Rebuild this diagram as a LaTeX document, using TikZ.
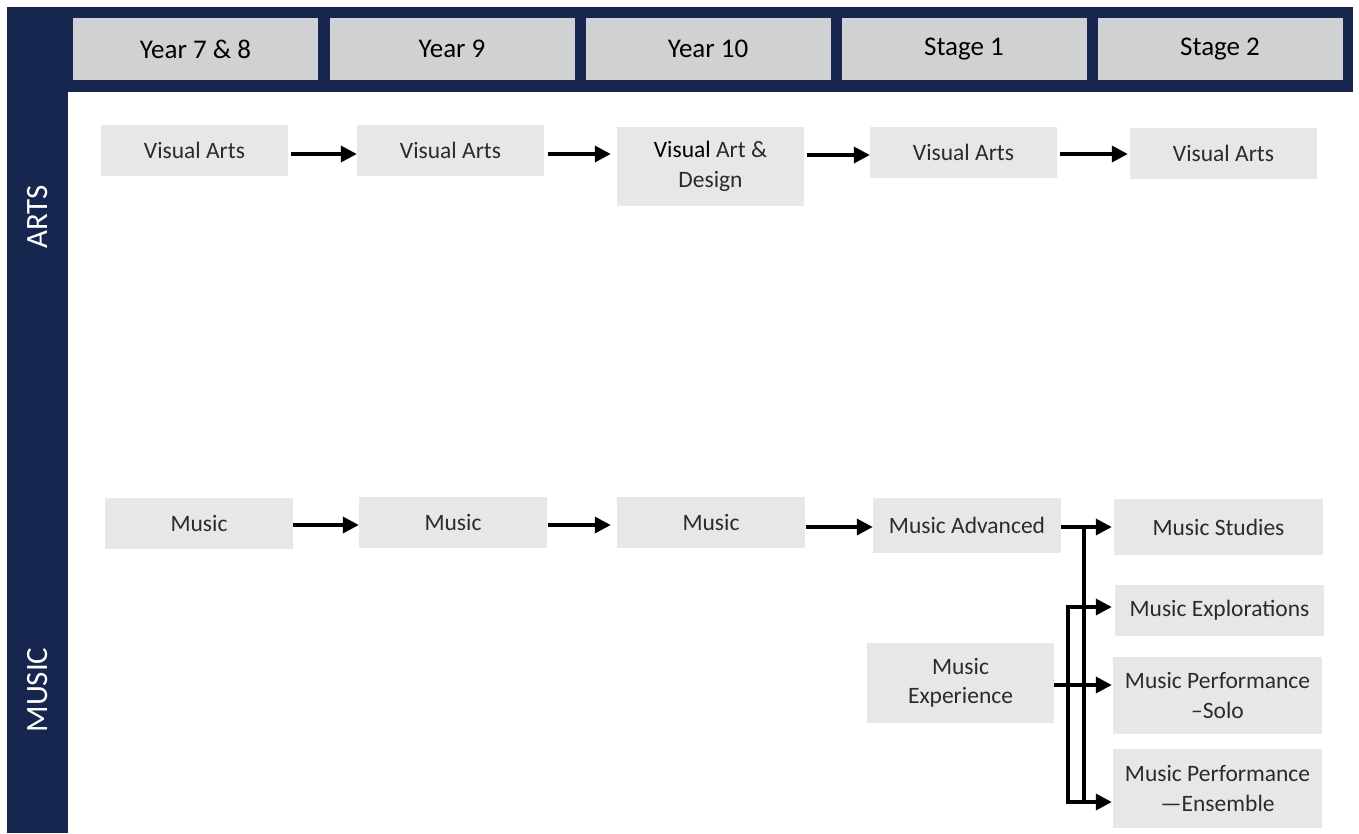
\documentclass[tikz,border=0pt]{standalone}
\usepackage{fontspec}
\setmainfont{Carlito}
\usetikzlibrary{arrows.meta}
\definecolor{navy}{HTML}{17264E}
\definecolor{headgray}{HTML}{D0D1D3}
\definecolor{boxgray}{HTML}{E7E7E8}
\definecolor{ink}{HTML}{2B2B2B}
\tikzset{
  headcell/.style={fill=headgray, minimum width=245pt, minimum height=62pt, inner sep=0pt,
    font=\fontsize{27}{30}\selectfont, text=black},
  subject/.style={fill=boxgray, minimum width=187pt, minimum height=51pt, inner sep=0pt,
    align=center, font=\fontsize{23.5}{29.5}\selectfont, text=ink},
  sidelabel/.style={rotate=90, text=white, font=\fontsize{31}{34}\selectfont, inner sep=0pt},
  ln/.style={line width=3.5pt, line cap=rect},
  arr/.style={line width=3.5pt, -{Triangle[length=16pt,width=16pt]}}
}
\begin{document}
\begin{tikzpicture}[x=1pt, y=-1pt]
  \useasboundingbox[fill=white] (0,0) rectangle (1359,833);

  % frame: top band and left bar
  \fill[navy] (7,7) rectangle (1353,92);
  \fill[navy] (7,7) rectangle (68,833);

  % column headings
  \node[headcell] (h1) at (195.5,49) {Year 7 \& 8};
  \node[headcell] (h2) at (452,49) {Year 9};
  \node[headcell] (h3) at (708,49) {Year 10};
  \node[headcell] (h4) at (964,49) {Stage 1};
  \node[headcell] (h5) at (1220,49) {Stage 2};

  % row labels
  \node[sidelabel] (arts) at (38,217) {ARTS};
  \node[sidelabel] (music) at (38,690) {MUSIC};

  % arts pathway
  \node[subject] (va1) at (194.5,150.5) {Visual Arts};
  \node[subject] (va2) at (450.5,150.5) {Visual Arts};
  \node[subject, minimum height=79pt] (va3) at (710.5,166.5) {{\color{black}Visual} Art \&\\Design};
  \node[subject] (va4) at (963.5,152.5) {Visual Arts};
  \node[subject] (va5) at (1223.5,153.5) {Visual Arts};

  \draw[arr, shorten <=3pt] (va1.east |- 0,154) -- (va2.west |- 0,154);
  \draw[arr, shorten <=4pt, shorten >=6pt] (va2.east |- 0,154) -- (va3.west |- 0,154);
  \draw[arr, shorten <=3pt] (va3.east |- 0,155) -- (va4.west |- 0,155);
  \draw[arr, shorten <=3pt, shorten >=2pt] (va4.east |- 0,154) -- (va5.west |- 0,154);

  % music pathway
  \node[subject, minimum width=188pt] (m1) at (199,523.5) {Music};
  \node[subject, minimum width=188pt] (m2) at (453,522.5) {Music};
  \node[subject, minimum width=188pt] (m3) at (711,522.5) {Music};
  \node[subject, minimum width=188pt, minimum height=55pt] (madv) at (967,525.5) {Music Advanced};
  \node[subject, minimum height=80pt] (mexper) at (960.5,683) {Music\\Experience};

  \node[subject, minimum width=209pt, minimum height=56pt] (mstud) at (1218.5,527) {Music Studies};
  \node[subject, minimum width=209pt] (mexpl) at (1219.5,610.5) {Music Explorations};
  \node[subject, minimum width=209pt, minimum height=77pt] (msolo) at (1217.5,695.5) {Music Performance\\–Solo};
  \node[subject, minimum width=209pt, minimum height=79pt] (mens) at (1217.5,788.5) {Music Performance\\—Ensemble};

  \draw[arr] (m1.east |- 0,525) -- (m2.west |- 0,525);
  \draw[arr, shorten <=1pt, shorten >=6pt] (m2.east |- 0,525) -- (m3.west |- 0,525);
  \draw[arr, shorten <=1pt] (m3.east |- 0,527) -- (madv.west |- 0,527);

  % branching into Stage 2
  \coordinate (ja) at (1084,527);
  \coordinate (jb) at (1068,607);
  \coordinate (jc) at (1068,802);
  \draw[arr, shorten >=2pt] (madv.east |- ja) -- (mstud.west |- ja);
  \draw[ln] (ja) -- (ja |- jc);
  \draw[ln] (jb) -- (jc);
  \draw[arr, shorten >=3pt] (jb) -- (jb -| mexpl.west);
  \draw[arr, shorten >=1pt] (mexper.east |- 0,685) -- (msolo.west |- 0,685);
  \draw[arr, shorten >=1pt] (jc) -- (jc -| mens.west);
\end{tikzpicture}
\end{document}
